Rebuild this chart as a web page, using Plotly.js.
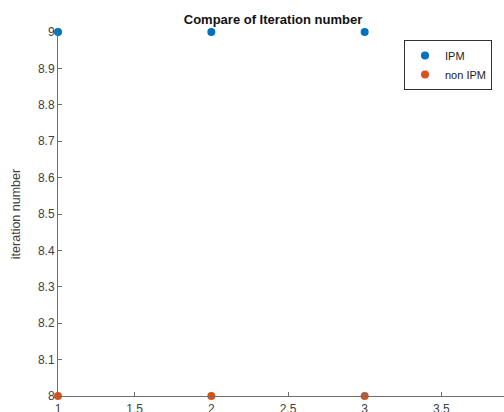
<!DOCTYPE html>
<html><head><meta charset="utf-8">
<script src="https://cdn.plot.ly/plotly-3.0.1.min.js"></script>
<style>html,body{margin:0;padding:0;overflow:hidden;background:#fff;width:504px;height:412px}</style>
</head><body><div id="chart"></div>
<script>
const xVals = [1, 2, 3];
const ipm = [9, 9, 9];
const nonIpm = [8, 8, 8];
const xTicks = [1, 1.5, 2, 2.5, 3, 3.5, 4];
const xTickText = ['1', '1.5', '2', '2.5', '3', '3.5', '4'];
const yTicks = [8, 8.1, 8.2, 8.3, 8.4, 8.5, 8.6, 8.7, 8.8, 8.9, 9];
const yTickText = ['8', '8.1', '8.2', '8.3', '8.4', '8.5', '8.6', '8.7', '8.8', '8.9', '9'];

const traces = [
  {x: xVals, y: ipm, name: 'IPM', mode: 'markers', type: 'scatter',
   marker: {color: '#0072BD', size: 8}, cliponaxis: false},
  {x: xVals, y: nonIpm, name: 'non IPM', mode: 'markers', type: 'scatter',
   marker: {color: '#D95319', size: 8}, cliponaxis: false}
];
const axisCommon = {showgrid: false, zeroline: false, showline: true, linecolor: '#6e6e6e', linewidth: 1,
  ticks: 'inside', ticklen: 4, tickcolor: '#6e6e6e', tickfont: {family: 'Liberation Sans, Arial', size: 12, color: '#404040'}};
const layout = {
  width: 560, height: 440,
  margin: {l: 58, r: 42, t: 32, b: 44},
  paper_bgcolor: '#fff', plot_bgcolor: '#fff',
  font: {family: 'Liberation Sans, Arial', size: 12, color: '#404040'},
  title: {text: '<b>Compare of Iteration number</b>', x: 273/560, xanchor: 'center', xref: 'container',
          y: 1 - 19/440, yanchor: 'middle', yref: 'container', font: {size: 13, color: '#111'}},
  xaxis: Object.assign({}, axisCommon, {range: [1, 4], tickvals: xTicks, ticktext: xTickText, ticklabelstandoff: 2}),
  yaxis: Object.assign({}, axisCommon, {range: [8, 9], tickvals: yTicks, ticktext: yTickText,
     title: {text: 'iteration number', standoff: 14, font: {size: 12.5, color: '#404040'}}}),
  showlegend: true,
  legend: {x: (404-58)/460, y: (396-40)/364, xanchor: 'left', yanchor: 'top', bordercolor: '#333', borderwidth: 1,
    bgcolor: '#fff', font: {size: 11, color: '#222'}, tracegroupgap: 0, itemwidth: 30, entrywidth: 110}
};
Plotly.newPlot('chart', traces, layout, {displayModeBar: false, staticPlot: true});
</script></body></html>
